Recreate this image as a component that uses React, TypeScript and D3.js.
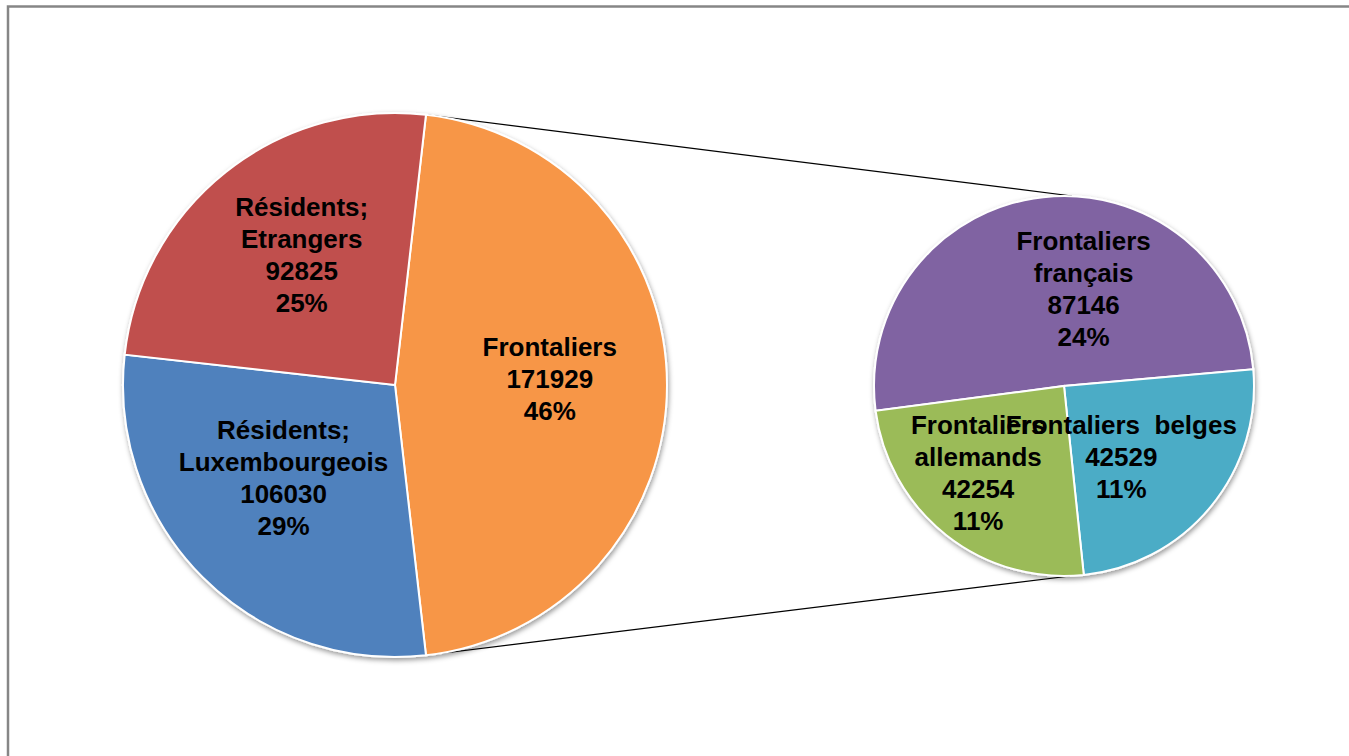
import React from "react";
import * as d3 from "d3";

// ---- Data ----
const mainLabels = ["Frontaliers", "Résidents; Luxembourgeois", "Résidents; Etrangers"];
const mainValues = [171929, 106030, 92825];
const mainPercents = ["46%", "29%", "25%"];
const mainLines = [["Frontaliers"], ["Résidents;", "Luxembourgeois"], ["Résidents;", "Etrangers"]];
const mainColors = ["#F79646", "#4F81BD", "#C0504D"];

const secLabels = ["Frontaliers français", "Frontaliers  belges", "Frontaliers allemands"];
const secValues = [87146, 42529, 42254];
const secPercents = ["24%", "11%", "11%"];
const secLines = [["Frontaliers", "français"], ["Frontaliers  belges"], ["Frontaliers", "allemands"]];
const secColors = ["#8064A2", "#4BACC6", "#9BBB59"];

// ---- Layout ----
const W = 1349;
const H = 756;
const main = { cx: 395, cy: 385, r: 272 };
const sec = { cx: 1064, cy: 386, r: 190 };
const FONT = 26;
const LINE_H = 32;
const mainNudge = [[-3, -6], [0, -19], [5, -7]];
const secNudge = [[30, -3], [-16, 10], [-27, 12]];

export default function App() {
  const mainTotal = d3.sum(mainValues);
  const mainSplit = (2 * Math.PI * mainValues[0]) / mainTotal;
  const mainStart = Math.PI / 2 - mainSplit / 2;
  const mainPie = d3
    .pie<number>()
    .sort(null)
    .value((d) => d)
    .startAngle(mainStart)
    .endAngle(mainStart + 2 * Math.PI);
  const mainArcs = mainPie(mainValues);

  const secStart = (262.5 * Math.PI) / 180;
  const secPie = d3
    .pie<number>()
    .sort(null)
    .value((d) => d)
    .startAngle(secStart)
    .endAngle(secStart + 2 * Math.PI);
  const secArcs = secPie(secValues);

  const mainArc = d3.arc<any>().innerRadius(0).outerRadius(main.r);
  const mainLabelArc = d3.arc<any>().innerRadius(0).outerRadius(main.r * 1.16);
  const secArc = d3.arc<any>().innerRadius(0).outerRadius(sec.r);
  const secLabelArc = d3.arc<any>().innerRadius(0).outerRadius(sec.r * 1.0);

  // connector endpoints
  const a0 = mainArcs[0].startAngle;
  const a1 = mainArcs[0].endAngle;
  const p0 = [main.cx + main.r * Math.sin(a0), main.cy - main.r * Math.cos(a0)];
  const p1 = [main.cx + main.r * Math.sin(a1), main.cy - main.r * Math.cos(a1)];
  const q0 = [sec.cx + 8, sec.cy - sec.r];
  const q1 = [sec.cx + 6, sec.cy + sec.r];

  const renderLabel = (
    lines: string[],
    value: number,
    pct: string,
    pos: [number, number],
    key: string
  ) => {
    const all = [...lines, String(value), pct];
    const n = all.length;
    const y0 = pos[1] - ((n - 1) * LINE_H) / 2 + FONT * 0.36;
    return (
      <text
        key={key}
        textAnchor="middle"
        fontFamily="'Liberation Sans', Arial, sans-serif"
        fontWeight="bold"
        fontSize={FONT}
        fill="#000"
        style={{ whiteSpace: "pre" }}
      >
        {all.map((t, i) => (
          <tspan key={i} x={pos[0]} y={y0 + i * LINE_H}>
            {t}
          </tspan>
        ))}
      </text>
    );
  };

  return (
    <svg
      width={W}
      height={H}
      style={{ position: "absolute", left: 0, top: 0, display: "block" }}
    >
      <defs>
        <filter id="shadow" x="-10%" y="-10%" width="120%" height="120%">
          <feDropShadow dx="1" dy="2.5" stdDeviation="2.5" floodColor="#000" floodOpacity="0.4" />
        </filter>
      </defs>
      <rect x={0} y={0} width={W} height={H} fill="#fff" />
      <rect
        x={8}
        y={6.5}
        width={W + 10}
        height={H + 10}
        fill="none"
        stroke="#868686"
        strokeWidth={2.5}
      />
      <line x1={p0[0]} y1={p0[1]} x2={q0[0]} y2={q0[1]} stroke="#000" strokeWidth={1.2} />
      <line x1={p1[0]} y1={p1[1]} x2={q1[0]} y2={q1[1]} stroke="#000" strokeWidth={1.2} />

      <g transform={`translate(${main.cx},${main.cy})`} filter="url(#shadow)">
        {mainArcs.map((a, i) => (
          <path key={mainLabels[i]} d={mainArc(a) || ""} fill={mainColors[i]} stroke="#fff" strokeWidth={2} />
        ))}
      </g>
      <g transform={`translate(${sec.cx},${sec.cy})`} filter="url(#shadow)">
        {secArcs.map((a, i) => (
          <path key={secLabels[i]} d={secArc(a) || ""} fill={secColors[i]} stroke="#fff" strokeWidth={2} />
        ))}
      </g>

      {mainArcs.map((a, i) => {
        const c = mainLabelArc.centroid(a);
        return renderLabel(
          mainLines[i],
          mainValues[i],
          mainPercents[i],
          [main.cx + c[0] + mainNudge[i][0], main.cy + c[1] + mainNudge[i][1]],
          "m" + i
        );
      })}
      {[2, 1, 0].map((i) => {
        const a = secArcs[i];
        const c = secLabelArc.centroid(a);
        return renderLabel(
          secLines[i],
          secValues[i],
          secPercents[i],
          [sec.cx + c[0] + secNudge[i][0], sec.cy + c[1] + secNudge[i][1]],
          "s" + i
        );
      })}
    </svg>
  );
}
